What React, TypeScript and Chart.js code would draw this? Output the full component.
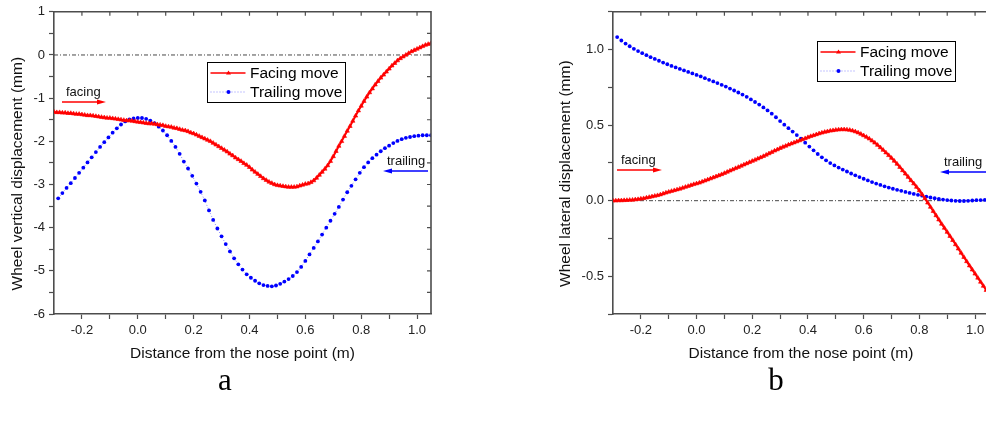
import React, { useEffect, useRef } from "react";
import { Chart, registerables } from "chart.js";

Chart.register(...registerables);

// ---------- data ----------
const distanceFacing = [
  -0.30, -0.29, -0.28, -0.27, -0.26, -0.25, -0.24, -0.23, -0.22, -0.21,
  -0.20, -0.19, -0.18, -0.17, -0.16, -0.15, -0.14, -0.13, -0.12, -0.11,
  -0.10, -0.09, -0.08, -0.07, -0.06, -0.05, -0.04, -0.03, -0.02, -0.01,
  0.00, 0.01, 0.02, 0.03, 0.04, 0.05, 0.06, 0.07, 0.08, 0.09,
  0.10, 0.11, 0.12, 0.13, 0.14, 0.15, 0.16, 0.17, 0.18, 0.19,
  0.20, 0.21, 0.22, 0.23, 0.24, 0.25, 0.26, 0.27, 0.28, 0.29,
  0.30, 0.31, 0.32, 0.33, 0.34, 0.35, 0.36, 0.37, 0.38, 0.39,
  0.40, 0.41, 0.42, 0.43, 0.44, 0.45, 0.46, 0.47, 0.48, 0.49,
  0.50, 0.51, 0.52, 0.53, 0.54, 0.55, 0.56, 0.57, 0.58, 0.59,
  0.60, 0.61, 0.62, 0.63, 0.64, 0.65, 0.66, 0.67, 0.68, 0.69,
  0.70, 0.71, 0.72, 0.73, 0.74, 0.75, 0.76, 0.77, 0.78, 0.79,
  0.80, 0.81, 0.82, 0.83, 0.84, 0.85, 0.86, 0.87, 0.88, 0.89,
  0.90, 0.91, 0.92, 0.93, 0.94, 0.95, 0.96, 0.97, 0.98, 0.99,
  1.00, 1.01, 1.02, 1.03, 1.04, 1.05,
];

const distanceTrailing = [
  -0.285, -0.270, -0.255, -0.240, -0.225, -0.210, -0.195, -0.180, -0.165, -0.150,
  -0.135, -0.120, -0.105, -0.090, -0.075, -0.060, -0.045, -0.030, -0.015, 0.000,
  0.015, 0.030, 0.045, 0.060, 0.075, 0.090, 0.105, 0.120, 0.135, 0.150,
  0.165, 0.180, 0.195, 0.210, 0.225, 0.240, 0.255, 0.270, 0.285, 0.300,
  0.315, 0.330, 0.345, 0.360, 0.375, 0.390, 0.405, 0.420, 0.435, 0.450,
  0.465, 0.480, 0.495, 0.510, 0.525, 0.540, 0.555, 0.570, 0.585, 0.600,
  0.615, 0.630, 0.645, 0.660, 0.675, 0.690, 0.705, 0.720, 0.735, 0.750,
  0.765, 0.780, 0.795, 0.810, 0.825, 0.840, 0.855, 0.870, 0.885, 0.900,
  0.915, 0.930, 0.945, 0.960, 0.975, 0.990, 1.005, 1.020, 1.035, 1.050,
];

// (a) wheel vertical displacement (mm)
const verticalFacing = [
  -1.32, -1.33, -1.33, -1.34, -1.34, -1.35, -1.35, -1.36, -1.37, -1.37,
  -1.38, -1.39, -1.40, -1.40, -1.41, -1.42, -1.43, -1.44, -1.45, -1.46,
  -1.46, -1.47, -1.48, -1.49, -1.50, -1.51, -1.52, -1.52, -1.53, -1.54,
  -1.55, -1.56, -1.57, -1.58, -1.59, -1.59, -1.60, -1.61, -1.62, -1.63,
  -1.65, -1.66, -1.67, -1.69, -1.70, -1.72, -1.74, -1.75, -1.77, -1.80,
  -1.82, -1.85, -1.88, -1.91, -1.94, -1.97, -2.00, -2.04, -2.08, -2.12,
  -2.16, -2.20, -2.24, -2.29, -2.33, -2.38, -2.42, -2.46, -2.51, -2.55,
  -2.60, -2.66, -2.71, -2.76, -2.81, -2.86, -2.90, -2.94, -2.97, -3.00,
  -3.02, -3.03, -3.04, -3.05, -3.06, -3.06, -3.06, -3.05, -3.03, -3.01,
  -2.99, -2.98, -2.95, -2.91, -2.85, -2.78, -2.71, -2.64, -2.56, -2.46,
  -2.35, -2.23, -2.11, -2.00, -1.88, -1.76, -1.65, -1.53, -1.41, -1.29,
  -1.18, -1.07, -0.97, -0.87, -0.78, -0.69, -0.61, -0.53, -0.46, -0.39,
  -0.32, -0.25, -0.19, -0.13, -0.08, -0.04, 0.00, 0.04, 0.08, 0.11,
  0.14, 0.17, 0.20, 0.23, 0.25, 0.27,
];

const verticalTrailing = [
  -3.32, -3.20, -3.08, -2.97, -2.85, -2.73, -2.61, -2.49, -2.37, -2.25,
  -2.13, -2.02, -1.91, -1.80, -1.70, -1.61, -1.54, -1.49, -1.47, -1.46,
  -1.46, -1.48, -1.52, -1.58, -1.66, -1.75, -1.86, -1.99, -2.13, -2.29,
  -2.47, -2.63, -2.80, -2.98, -3.17, -3.37, -3.60, -3.82, -4.02, -4.20,
  -4.38, -4.55, -4.71, -4.85, -4.97, -5.08, -5.16, -5.23, -5.29, -5.33,
  -5.35, -5.36, -5.34, -5.30, -5.25, -5.19, -5.12, -5.03, -4.91, -4.77,
  -4.62, -4.47, -4.32, -4.16, -4.00, -3.84, -3.68, -3.52, -3.35, -3.18,
  -3.03, -2.88, -2.73, -2.60, -2.49, -2.39, -2.31, -2.23, -2.16, -2.10,
  -2.04, -1.99, -1.95, -1.92, -1.90, -1.88, -1.87, -1.86, -1.86, -1.86,
];

// (b) wheel lateral displacement (mm)
const lateralFacing = [
  0.000, 0.000, 0.001, 0.001, 0.002, 0.003, 0.004, 0.005, 0.007, 0.009,
  0.012, 0.015, 0.019, 0.023, 0.027, 0.031, 0.035, 0.040, 0.046, 0.052,
  0.058, 0.063, 0.068, 0.073, 0.078, 0.084, 0.090, 0.096, 0.102, 0.108,
  0.113, 0.118, 0.125, 0.132, 0.139, 0.146, 0.153, 0.160, 0.167, 0.174,
  0.182, 0.190, 0.198, 0.206, 0.214, 0.222, 0.230, 0.238, 0.246, 0.254,
  0.262, 0.270, 0.278, 0.286, 0.294, 0.303, 0.312, 0.321, 0.330, 0.338,
  0.347, 0.355, 0.362, 0.370, 0.377, 0.384, 0.391, 0.398, 0.405, 0.412,
  0.419, 0.426, 0.432, 0.438, 0.444, 0.449, 0.454, 0.458, 0.462, 0.465,
  0.468, 0.470, 0.471, 0.471, 0.470, 0.467, 0.463, 0.457, 0.450, 0.441,
  0.431, 0.421, 0.410, 0.397, 0.383, 0.368, 0.352, 0.335, 0.318, 0.300,
  0.282, 0.263, 0.243, 0.222, 0.200, 0.178, 0.156, 0.134, 0.113, 0.090,
  0.067, 0.041, 0.014, -0.014, -0.042, -0.070, -0.098, -0.126, -0.154, -0.181,
  -0.208, -0.235, -0.262, -0.290, -0.318, -0.346, -0.374, -0.402, -0.430, -0.457,
  -0.484, -0.511, -0.538, -0.565, -0.592, -0.620,
];

const lateralTrailing = [
  1.083, 1.060, 1.040, 1.022, 1.005, 0.990, 0.976, 0.963, 0.950, 0.938,
  0.926, 0.914, 0.903, 0.892, 0.882, 0.872, 0.862, 0.852, 0.842, 0.832,
  0.822, 0.811, 0.800, 0.789, 0.778, 0.767, 0.755, 0.742, 0.729, 0.716,
  0.702, 0.687, 0.670, 0.653, 0.636, 0.617, 0.597, 0.576, 0.552, 0.527,
  0.503, 0.480, 0.457, 0.434, 0.410, 0.384, 0.358, 0.333, 0.309, 0.287,
  0.267, 0.249, 0.233, 0.219, 0.206, 0.193, 0.180, 0.168, 0.156, 0.145,
  0.134, 0.123, 0.113, 0.104, 0.095, 0.087, 0.079, 0.072, 0.065, 0.058,
  0.051, 0.045, 0.039, 0.033, 0.027, 0.021, 0.016, 0.011, 0.007, 0.004,
  0.001, -0.001, -0.002, -0.002, -0.001, 0.001, 0.003, 0.004, 0.005, 0.005,
];

const seriesNames = ["Facing move", "Trailing move"];
const xAxisTitle = "Distance from the nose point (m)";
const yTitleA = "Wheel vertical displacement (mm)";
const yTitleB = "Wheel lateral displacement (mm)";

// ---------- styling ----------
const FONT = "Arial, 'Liberation Sans', Helvetica, sans-serif";
const SERIF = "'Times New Roman', 'Liberation Serif', serif";
const AXIS = "#4d4d4d";
const RED = "#ff0000";
const BLUE = "#0000ff";
const CANVAS_H = 363;

type PanelOpts = {
  facing: number[];
  trailing: number[];
  yMin: number;
  yMax: number;
  yStep: number;
  yLabelStep: number;
  yDecimals: number;
  yTitle: string;
  yAxisWidth: number;
  padRight: number;
  frameRight: boolean;
};

function fmt(v: number, labelStep: number, dec: number) {
  const k = v / labelStep;
  if (Math.abs(k - Math.round(k)) > 1e-6) return "";
  const r = Math.round(v * 1000) / 1000;
  return (r === 0 ? 0 : r).toFixed(dec);
}

function makeFramePlugin(frameRight: boolean) {
  return {
    id: "frameAndZero",
    beforeDatasetsDraw(chart: any) {
      const { ctx, chartArea } = chart;
      const { left, right } = chartArea;
      const y = chart.scales.y;
      const y0 = y.getPixelForValue(0);
      ctx.save();
      ctx.strokeStyle = "#333";
      ctx.lineWidth = 0.9;
      ctx.setLineDash([4, 2, 1, 2]);
      ctx.beginPath();
      ctx.moveTo(left, y0);
      ctx.lineTo(right, y0);
      ctx.stroke();
      ctx.restore();
    },
    afterDatasetsDraw(chart: any) {
      const { ctx, chartArea } = chart;
      const { left, right, top, bottom } = chartArea;
      const x = chart.scales.x;
      const y = chart.scales.y;
      ctx.save();
      ctx.strokeStyle = AXIS;
      ctx.lineWidth = 1.6;
      ctx.beginPath();
      ctx.moveTo(left, top);
      ctx.lineTo(right, top);
      if (frameRight) ctx.lineTo(right, bottom);
      ctx.stroke();
      ctx.lineWidth = 1.2;
      ctx.beginPath();
      for (const t of x.ticks) {
        const px = x.getPixelForValue(t.value);
        if (px <= left + 1 || px >= right - 1) continue;
        ctx.moveTo(px, top);
        ctx.lineTo(px, top + 4);
      }
      if (frameRight) {
        for (const t of y.ticks) {
          const py = y.getPixelForValue(t.value);
          if (py <= top + 1 || py >= bottom - 1) continue;
          ctx.moveTo(right, py);
          ctx.lineTo(right - 4, py);
        }
      }
      ctx.stroke();
      ctx.restore();
    },
  };
}

function makeConfig(o: PanelOpts): any {
  return {
    type: "line",
    data: {
      datasets: [
        {
          label: seriesNames[0],
          data: distanceFacing.map((d, i) => ({ x: d, y: o.facing[i] })),
          borderColor: RED,
          backgroundColor: RED,
          borderWidth: 2,
          pointStyle: "triangle",
          pointRadius: 2.5,
          pointBorderWidth: 0.6,
          pointBorderColor: RED,
          pointBackgroundColor: RED,
          tension: 0,
        },
        {
          label: seriesNames[1],
          data: distanceTrailing.map((d, i) => ({ x: d, y: o.trailing[i] })),
          borderColor: "#8a8aff",
          backgroundColor: BLUE,
          borderWidth: 1,
          borderDash: [1, 2],
          pointStyle: "circle",
          pointRadius: 1.9,
          pointBorderWidth: 0,
          pointBackgroundColor: BLUE,
          tension: 0,
        },
      ],
    },
    options: {
      responsive: false,
      animation: false,
      devicePixelRatio: 1,
      events: [],
      layout: { padding: { left: 0, right: o.padRight, top: 10, bottom: 0 } },
      plugins: { legend: { display: false }, tooltip: { enabled: false } },
      scales: {
        x: {
          type: "linear",
          min: -0.3,
          max: 1.05,
          afterFit: (s: any) => {
            s.height = CANVAS_H - 314;
          },
          ticks: {
            stepSize: 0.1,
            includeBounds: false,
            autoSkip: false,
            maxRotation: 0,
            padding: 4,
            color: "#222",
            font: { family: FONT, size: 13 },
            callback: (v: any) => fmt(Number(v), 0.2, 1),
          },
          grid: {
            drawOnChartArea: false,
            drawTicks: true,
            tickLength: 5,
            tickColor: AXIS,
            tickWidth: 1.2,
          },
          border: { display: true, color: AXIS, width: 1.6 },
          title: {
            display: true,
            text: xAxisTitle,
            color: "#111",
            font: { family: FONT, size: 15.5 },
            padding: { top: 0, bottom: 0 },
          },
        },
        y: {
          type: "linear",
          min: o.yMin,
          max: o.yMax,
          afterFit: (s: any) => {
            s.width = o.yAxisWidth;
          },
          ticks: {
            stepSize: o.yStep,
            includeBounds: false,
            autoSkip: false,
            padding: 4,
            color: "#222",
            font: { family: FONT, size: 13 },
            callback: (v: any) => fmt(Number(v), o.yLabelStep, o.yDecimals),
          },
          grid: {
            drawOnChartArea: false,
            drawTicks: true,
            tickLength: 5,
            tickColor: AXIS,
            tickWidth: 1.2,
          },
          border: { display: true, color: AXIS, width: 1.6 },
          title: {
            display: true,
            text: o.yTitle + "     ",
            color: "#111",
            font: { family: FONT, size: 15.5 },
            padding: { top: 8, bottom: 0 },
          },
        },
      },
    },
    plugins: [makeFramePlugin(o.frameRight)],
  };
}

function Panel({ opts, left, width }: { opts: PanelOpts; left: number; width: number }) {
  const ref = useRef<HTMLCanvasElement>(null);
  useEffect(() => {
    if (!ref.current) return;
    const chart = new Chart(ref.current, makeConfig(opts));
    return () => chart.destroy();
  }, []);
  return (
    <canvas
      ref={ref}
      width={width}
      height={CANVAS_H}
      style={{ position: "absolute", left, top: 0, width, height: CANVAS_H }}
    />
  );
}

function Legend({ left, top }: { left: number; top: number }) {
  return (
    <div
      style={{
        position: "absolute",
        left,
        top,
        width: 139,
        height: 41,
        boxSizing: "border-box",
        border: "1px solid #000",
        background: "#fff",
        fontFamily: FONT,
        fontSize: 15.5,
        color: "#000",
        whiteSpace: "nowrap",
      }}
    >
      <svg width={137} height={39} style={{ position: "absolute", left: 0, top: 0 }}>
        <line x1={2.5} x2={37.5} y1={10} y2={10} stroke={RED} strokeWidth={1.4} />
        <polygon points="20.5,7.6 23,11.6 18,11.6" fill={RED} />
        <line x1={2.5} x2={37.5} y1={29} y2={29} stroke="#8a8aff" strokeWidth={1} strokeDasharray="1 2" />
        <circle cx={20.5} cy={29} r={2} fill={BLUE} />
      </svg>
      <div style={{ position: "absolute", left: 42, top: 1, lineHeight: "18px" }}>{seriesNames[0]}</div>
      <div style={{ position: "absolute", left: 42, top: 20, lineHeight: "18px" }}>{seriesNames[1]}</div>
    </div>
  );
}

function Note({ text, left, cy }: { text: string; left: number; cy: number }) {
  return (
    <div
      style={{
        position: "absolute",
        left,
        top: cy - 8,
        lineHeight: "16px",
        fontFamily: FONT,
        fontSize: 13,
        color: "#111",
        whiteSpace: "nowrap",
      }}
    >
      {text}
    </div>
  );
}

function Arrow({ x1, x2, y, color }: { x1: number; x2: number; y: number; color: string }) {
  // arrow from x1 (tail) to x2 (tip)
  const dir = x2 > x1 ? 1 : -1;
  const hx = x2 - dir * 9;
  return (
    <g>
      <line x1={x1} x2={hx} y1={y} y2={y} stroke={color} strokeWidth={1.5} />
      <polygon points={`${x2},${y} ${hx},${y - 2.6} ${hx},${y + 2.6}`} fill={color} />
    </g>
  );
}

const panelA: PanelOpts = {
  facing: verticalFacing,
  trailing: verticalTrailing,
  yMin: -6,
  yMax: 1,
  yStep: 0.5,
  yLabelStep: 1,
  yDecimals: 0,
  yTitle: yTitleA,
  yAxisWidth: 54,
  padRight: 9,
  frameRight: true,
};

const panelB: PanelOpts = {
  facing: lateralFacing,
  trailing: lateralTrailing,
  yMin: -0.75,
  yMax: 1.25,
  yStep: 0.25,
  yLabelStep: 0.5,
  yDecimals: 1,
  yTitle: yTitleB,
  yAxisWidth: 65,
  padRight: 9,
  frameRight: false,
};

export default function App() {
  return (
    <div
      style={{
        position: "absolute",
        left: 0,
        top: 0,
        width: 986,
        height: 423,
        overflow: "hidden",
        background: "#fff",
      }}
    >
      <Panel opts={panelA} left={0} width={440} />
      <Panel opts={panelB} left={548} width={450} />
      <svg width={986} height={423} style={{ position: "absolute", left: 0, top: 0, pointerEvents: "none" }}>
        <Arrow x1={62} x2={106} y={102} color={RED} />
        <Arrow x1={428} x2={383} y={171} color={BLUE} />
        <Arrow x1={617} x2={662} y={170} color={RED} />
        <Arrow x1={987} x2={940} y={172} color={BLUE} />
      </svg>
      <Note text="facing" left={66} cy={92} />
      <Note text="trailing" left={387} cy={161} />
      <Note text="facing" left={621} cy={160} />
      <Note text="trailing" left={944} cy={162} />
      <Legend left={207} top={62} />
      <Legend left={817} top={41} />
      <div
        style={{
          position: "absolute",
          left: 205,
          top: 364,
          width: 40,
          textAlign: "center",
          fontFamily: SERIF,
          fontSize: 31,
          lineHeight: "31px",
          color: "#000",
        }}
      >
        a
      </div>
      <div
        style={{
          position: "absolute",
          left: 756,
          top: 364,
          width: 40,
          textAlign: "center",
          fontFamily: SERIF,
          fontSize: 31,
          lineHeight: "31px",
          color: "#000",
        }}
      >
        b
      </div>
    </div>
  );
}
